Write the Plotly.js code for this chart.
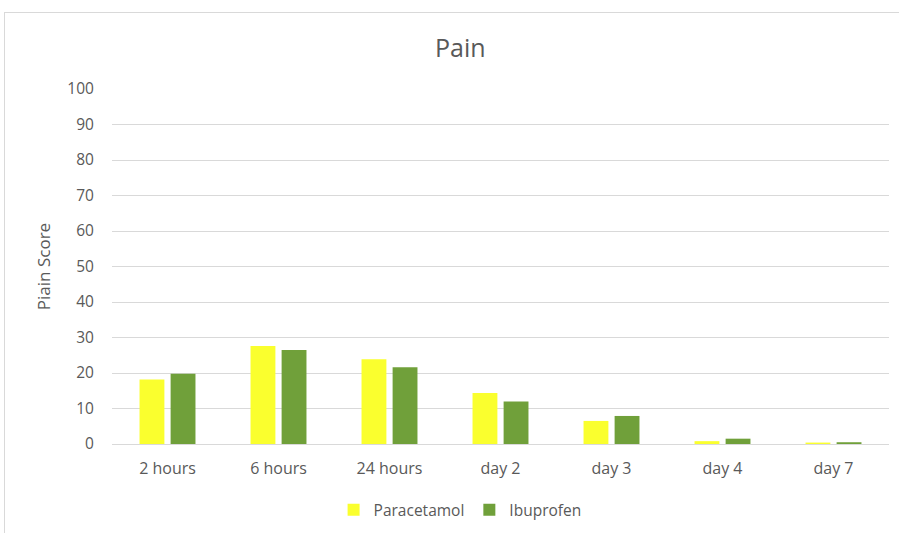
<!DOCTYPE html>
<html>
<head>
<meta charset="utf-8">
<script src="https://cdn.plot.ly/plotly-3.0.1.min.js"></script>
<style>
html,body{margin:0;padding:0;background:#fff;overflow:hidden;}
#frame{position:absolute;left:4px;top:12px;width:1000px;height:1000px;border:1px solid #d9d9d9;box-sizing:border-box;pointer-events:none;z-index:5;}
#chart{position:absolute;left:0;top:0;width:899px;height:533px;}
</style>
</head>
<body>
<div id="chart"></div>
<div id="frame"></div>
<script>
const categories = ["2 hours", "6 hours", "24 hours", "day 2", "day 3", "day 4", "day 7"];
const paracetamol = [18.2, 27.6, 23.9, 14.4, 6.5, 0.8, 0.4];
const ibuprofen = [19.8, 26.5, 21.6, 12.0, 7.9, 1.5, 0.5];
const yTicks = [0, 10, 20, 30, 40, 50, 60, 70, 80, 90, 100];

const font = "'Open Sans', 'Noto Sans', sans-serif";
const textColor = "#595959";

const traces = [
  {type: "bar", name: "Paracetamol", x: categories, y: paracetamol,
   marker: {color: "#FAFF2E"}},
  {type: "bar", name: "Ibuprofen", x: categories, y: ibuprofen,
   marker: {color: "#70A03A"}}
];

const layout = {
  width: 899, height: 533,
  margin: {l: 112, r: 10, t: 89, b: 89, autoexpand: false},
  paper_bgcolor: "#fff", plot_bgcolor: "#fff",
  font: {family: font, color: textColor, size: 16},
  title: {text: "Pain", x: 0.512, xanchor: "center", y: 0.91, yanchor: "middle",
          font: {size: 25, color: textColor, family: font}},
  barmode: "group", bargap: 0.44, bargroupgap: 0.2,
  showlegend: true,
  legend: {orientation: "h", x: 0.448, xanchor: "center",
           yref: "container", y: 0.043, yanchor: "middle",
           itemwidth: 30, font: {size: 15.5, color: textColor}},
  xaxis: {type: "category", showgrid: false, showline: false, zeroline: false,
          automargin: false,
          ticks: "outside", ticklen: 10, tickcolor: "rgba(0,0,0,0)",
          tickfont: {size: 16, color: textColor}, fixedrange: true},
  yaxis: {range: [0, 100], tickvals: yTicks, ticktext: yTicks.map(String),
          automargin: false,
          showgrid: true, gridcolor: "#d9d9d9", gridwidth: 1,
          zeroline: true, zerolinecolor: "#d9d9d9", zerolinewidth: 1,
          showline: false, ticks: "outside", ticklen: 14, tickcolor: "rgba(0,0,0,0)",
          tickfont: {size: 15.5, color: textColor},
          title: {text: "Piain Score", font: {size: 17, color: textColor}, standoff: 12},
          fixedrange: true}
};

Plotly.newPlot("chart", traces, layout, {displayModeBar: false, staticPlot: true});
</script>
</body>
</html>
